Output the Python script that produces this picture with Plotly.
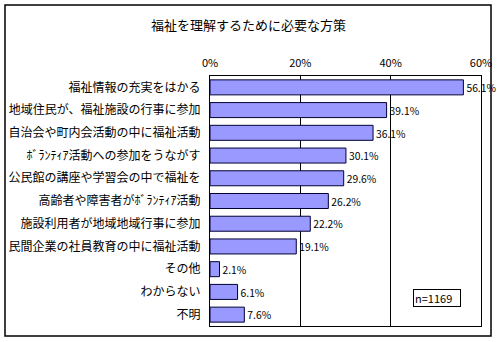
import plotly.graph_objects as go

categories = ["福祉情報の充実をはかる", "地域住民が、福祉施設の行事に参加", "自治会や町内会活動の中に福祉活動",
              "ﾎﾞﾗﾝﾃｨｱ活動への参加をうながす", "公民館の講座や学習会の中で福祉を", "高齢者や障害者がﾎﾞﾗﾝﾃｨｱ活動",
              "施設利用者が地域地域行事に参加", "民間企業の社員教育の中に福祉活動", "その他", "わからない", "不明"]
values = [56.1, 39.1, 36.1, 30.1, 29.6, 26.2, 22.2, 19.1, 2.1, 6.1, 7.6]
tick_vals = [0, 20, 40, 60]
tick_text = ["0%", "20%", "40%", "60%"]

FONT = "Noto Sans CJK JP"
W, H = 497, 342
L, R, T, B = 210, 16, 76, 16
pw, ph = W - L - R, H - T - B

fig = go.Figure(go.Bar(
    y=categories, x=values, orientation="h",
    marker=dict(color="#9999FF", line=dict(color="#000033", width=1)),
    text=[f"{v:.1f}%" for v in values], textposition="outside",
    textfont=dict(family=FONT, size=11, color="black"),
    cliponaxis=False, width=0.66,
))

def px_x(x):
    return (x - L) / pw

def px_y(y):
    return (H - B - y) / ph

fig.update_layout(
    width=W, height=H,
    margin=dict(l=L, r=R, t=T, b=B, autoexpand=False),
    paper_bgcolor="white", plot_bgcolor="white",
    font=dict(family=FONT, size=12, color="black"),
    showlegend=False,
    xaxis=dict(side="top", range=[0, 60], tickvals=tick_vals, ticktext=tick_text,
               showgrid=True, gridcolor="black", gridwidth=1, automargin=False,
               showline=True, linecolor="black", linewidth=1, mirror=True,
               ticks="", zeroline=False, tickfont=dict(size=11), ticklabelstandoff=4),
    yaxis=dict(autorange="reversed", showline=True, linecolor="black", linewidth=1, mirror=True,
               ticks="", showgrid=False, tickfont=dict(size=12), ticklabelstandoff=6,
               automargin=False),
    shapes=[dict(type="rect", xref="paper", yref="paper",
                 x0=px_x(5), x1=px_x(491), y0=px_y(336), y1=px_y(5),
                 line=dict(color="black", width=1.5), fillcolor="rgba(0,0,0,0)", layer="below")],
    annotations=[
        dict(text="福祉を理解するために必要な方策", xref="paper", yref="paper",
             x=px_x(248), y=px_y(24), xanchor="center", yanchor="middle",
             showarrow=False, font=dict(size=13)),
        dict(text="n=1169", xref="paper", yref="paper", x=px_x(437), y=px_y(298),
             xanchor="center", yanchor="middle",
             showarrow=False, font=dict(size=11), bordercolor="black", borderwidth=1,
             bgcolor="white", width=44, height=14, align="left"),
    ],
)

fig.write_html("out.html")
